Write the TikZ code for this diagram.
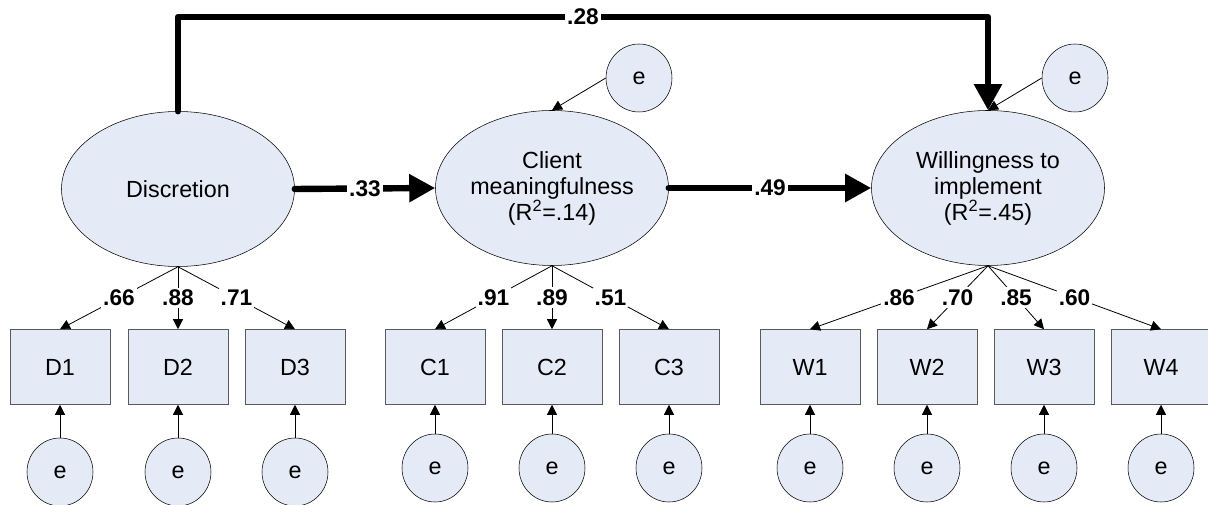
\documentclass[tikz,border=0pt]{standalone}
\usepackage{fontspec}
\setmainfont{Liberation Sans}
\usetikzlibrary{shapes.geometric, arrows.meta}

\definecolor{paleblue}{RGB}{228,234,246}

\begin{document}
\begin{tikzpicture}[x=0.75pt, y=-0.75pt,
    font=\fontsize{17.5}{19.5}\selectfont,
    latent/.style={ellipse, draw, fill=paleblue, thin, inner sep=0pt, align=center,
        minimum width=174.75pt, minimum height=116.25pt},
    indicator/.style={rectangle, draw=black!65, fill=paleblue, thin,
        minimum width=75pt, minimum height=56.25pt},
    err/.style={ellipse, draw, fill=paleblue, thin, inner sep=0pt,
        minimum width=49.5pt, minimum height=51pt},
    strong/.style={line width=4.8pt, line cap=round, line join=round,
        -{Triangle[length=19.5pt, width=20pt]}},
    weak/.style={line width=0.6pt, -{Triangle[length=7.5pt, width=7.5pt]}},
    coef/.style={fill=white, inner sep=1.5pt, font=\fontsize{17}{19.5}\selectfont\bfseries}]
    \useasboundingbox (0, 0) rectangle (1208, 505);

    % latent variables
    \node[latent] (disc) at (178, 189) {Discretion};
    \node[latent] (client) at (552, 188) {Client\\meaningfulness\\(R\textsuperscript{2}=.14)};
    \node[latent] (will) at (988, 188) {Willingness to\\implement\\(R\textsuperscript{2}=.45)};
    \node[err] (eclient) at (639, 78) {e};
    \node[err] (ewill) at (1075, 78) {e};
    \coordinate (top) at (0, 17);

    % indicators
    \node[indicator] (d1) at (60, 367) {D1};
    \node[indicator] (d2) at (178, 367) {D2};
    \node[indicator] (d3) at (295, 367) {D3};
    \node[indicator] (c1) at (435, 367) {C1};
    \node[indicator] (c2) at (552, 367) {C2};
    \node[indicator] (c3) at (669, 367) {C3};
    \node[indicator] (w1) at (810, 367) {W1};
    \node[indicator] (w2) at (927, 367) {W2};
    \node[indicator] (w3) at (1044, 367) {W3};
    \node[indicator] (w4) at (1161, 367) {W4};

    \node[err] (ed1) at (60, 472) {e};
    \node[err] (ed2) at (178, 472) {e};
    \node[err] (ed3) at (295, 472) {e};
    \node[err] (ec1) at (435, 468) {e};
    \node[err] (ec2) at (552, 468) {e};
    \node[err] (ec3) at (669, 468) {e};
    \node[err] (ew1) at (810, 468) {e};
    \node[err] (ew2) at (927, 468) {e};
    \node[err] (ew3) at (1044, 468) {e};
    \node[err] (ew4) at (1161, 468) {e};

    % structural paths
    \draw[strong] (disc.north) -- (disc.north |- top) -- node[coef] {.28} (will.north |- top) -- (will.north);
    \draw[strong] (disc.east) -- node[coef] {.33} (client.west);
    \draw[strong] (client.east) -- node[coef] {.49} (will.west);
    \draw[weak] (eclient.west) -- (client.north);
    \draw[weak] (ewill.west) -- (will.north);

    % loadings
    \draw[weak] (disc.south) -- node[coef] {.66} (d1.north);
    \draw[weak] (disc.south) -- node[coef] {.88} (d2.north);
    \draw[weak] (disc.south) -- node[coef] {.71} (d3.north);
    \draw[weak] (client.south) -- node[coef] {.91} (c1.north);
    \draw[weak] (client.south) -- node[coef] {.89} (c2.north);
    \draw[weak] (client.south) -- node[coef] {.51} (c3.north);
    \draw[weak] (will.south) -- node[coef] {.86} (w1.north);
    \draw[weak] (will.south) -- node[coef] {.70} (w2.north);
    \draw[weak] (will.south) -- node[coef] {.85} (w3.north);
    \draw[weak] (will.south) -- node[coef] {.60} (w4.north);

    % measurement errors
    \draw[weak] (ed1) -- (d1);
    \draw[weak] (ed2) -- (d2);
    \draw[weak] (ed3) -- (d3);
    \draw[weak] (ec1) -- (c1);
    \draw[weak] (ec2) -- (c2);
    \draw[weak] (ec3) -- (c3);
    \draw[weak] (ew1) -- (w1);
    \draw[weak] (ew2) -- (w2);
    \draw[weak] (ew3) -- (w3);
    \draw[weak] (ew4) -- (w4);
\end{tikzpicture}
\end{document}
